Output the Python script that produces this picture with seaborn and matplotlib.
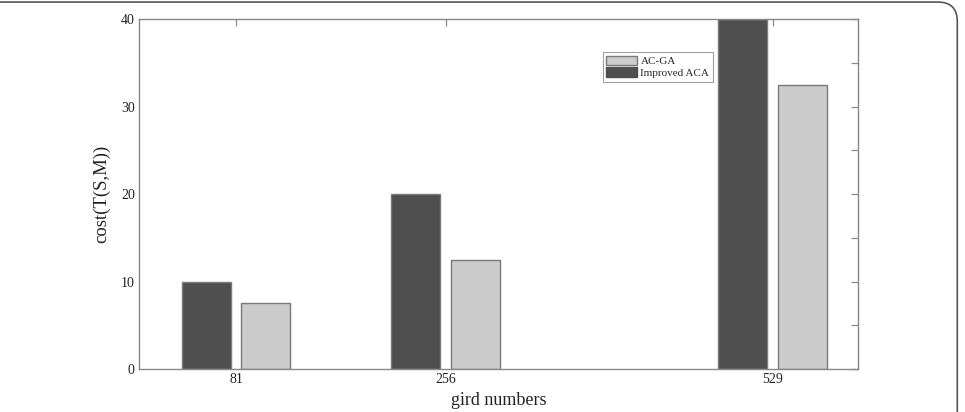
import pandas as pd
import numpy as np
import seaborn as sns
import matplotlib.pyplot as plt
from matplotlib.patches import FancyBboxPatch, Patch

# Data
grid_numbers = [81, 256, 529]
improved_aca = [10, 20, 40]
ac_ga = [7.5, 12.5, 32.5]

df = pd.DataFrame({
    'grid': grid_numbers * 2,
    'cost': improved_aca + ac_ga,
    'method': ['Improved ACA'] * 3 + ['AC-GA'] * 3,
})

sns.set_theme(style='white')
plt.rcParams['font.family'] = ['Liberation Serif', 'DejaVu Serif']

fig = plt.figure(figsize=(9.65, 4.12), dpi=100)
ax = fig.add_axes([0.144, 0.104, 0.745, 0.850])

palette = {'Improved ACA': '#4f4f4f', 'AC-GA': '#cccccc'}
sns.barplot(
    data=df, x='grid', y='cost', hue='method',
    hue_order=['Improved ACA', 'AC-GA'],
    palette=palette, native_scale=True,
    width=0.571, gap=0.18, saturation=1,
    edgecolor='#7a7a7a', linewidth=1.0, ax=ax, legend=False,
)

ax.set_xlim(0, 600)
ax.set_ylim(0, 40)
ax.set_xticks(grid_numbers)
ax.set_xticklabels([str(g) for g in grid_numbers])
ax.set_yticks([0, 10, 20, 30, 40])
ax.set_yticks([5, 15, 25, 35], minor=True)
ax.tick_params(axis='both', which='both', direction='in', top=True, right=True,
               length=5, width=0.9, color='#8a8a8a', labelsize=10,
               labelcolor='#222222', pad=3)
for s in ax.spines.values():
    s.set_color('#888888')
    s.set_linewidth(1.0)

ax.set_xlabel('gird numbers', fontsize=13, color='#222222', labelpad=4)
ax.set_ylabel('cost(T(S,M))', fontsize=13.5, color='#222222', labelpad=8)

handles = [Patch(facecolor='#cccccc', edgecolor='#7a7a7a', label='AC-GA'),
           Patch(facecolor='#4f4f4f', edgecolor='#4f4f4f', label='Improved ACA')]
leg = ax.legend(handles=handles, loc='upper left', bbox_to_anchor=(0.645, 0.905),
                fontsize=8, frameon=True, fancybox=False, borderpad=0.3,
                handlelength=2.8, handleheight=1.0, handletextpad=0.3,
                labelspacing=0.1, borderaxespad=0)
leg.get_frame().set_edgecolor('#888888')
leg.get_frame().set_linewidth(0.8)

# rounded outer frame (top and right edges visible)
frame = FancyBboxPatch((-0.05, -0.1), 1.042, 1.095, transform=fig.transFigure,
                       boxstyle='round,pad=0,rounding_size=0.02',
                       fill=False, edgecolor='#555555', linewidth=1.2,
                       mutation_aspect=965 / 412)
fig.patches.append(frame)

fig.savefig('out.png', dpi=100)
